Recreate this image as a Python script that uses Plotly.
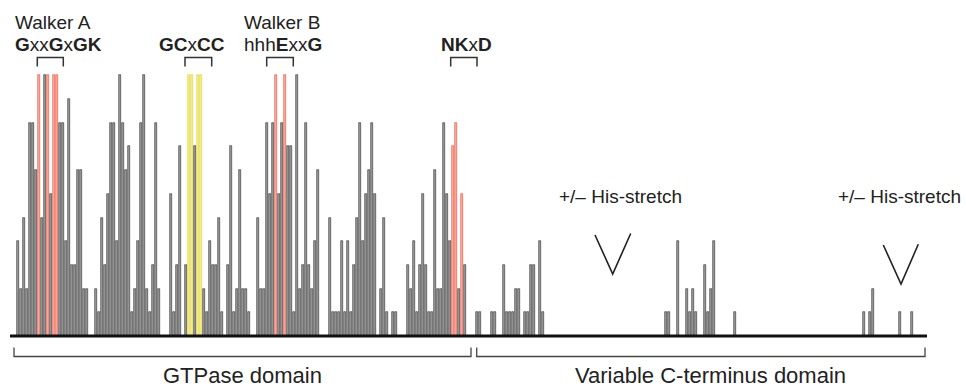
import plotly.graph_objects as go

# ---- data: residue position -> conservation level ----
positions = [
    0, 1, 2, 3, 4, 5, 6, 7, 8, 9, 10, 11, 12, 13, 14, 15, 16, 17, 18, 19, 20, 21, 22, 23,
    26, 27, 28, 29, 30, 31, 32, 33, 34, 35, 36, 37, 38, 39, 40, 41, 42, 43, 44, 45, 46, 47,
    51, 52, 53, 54, 56, 57, 58, 59, 60, 61, 62, 63, 64, 65, 66, 67, 68,
    70, 71, 72, 73, 74, 75, 76, 77,
    80, 81, 82, 83, 84, 85, 86, 87, 88, 89, 90, 91, 92, 93, 94, 95, 96, 97, 98, 99, 100,
    104, 105, 106, 107, 108, 109, 110, 111, 112, 113, 114, 115, 116, 117, 118, 119,
    121, 122, 123, 125, 126,
    130, 131, 132, 133, 134, 135, 136, 137, 138, 139, 140, 141, 142, 143, 144, 145, 146, 147, 148, 149,
    153, 154, 158, 159, 162, 163, 164, 165, 166, 167, 169, 170, 171, 172, 174, 175,
    216, 217, 220, 223, 224, 225, 226, 229, 230, 231, 232, 239,
    282, 284, 285, 294, 298,
]
conservation = [
    4, 2, 5, 2, 9, 9, 7, 11, 5, 11, 11, 6, 11, 11, 9, 9, 4, 10, 3, 3, 7, 7, 2, 2,
    2, 1, 5, 3, 6, 9, 9, 4, 11, 9, 7, 8, 1, 2, 4, 9, 11, 2, 1, 3, 9, 2,
    6, 1, 3, 8, 3, 11, 11, 8, 11, 11, 2, 1, 4, 3, 3, 5, 1,
    3, 8, 1, 2, 7, 2, 2, 1,
    5, 2, 2, 9, 6, 9, 11, 6, 9, 11, 8, 8, 1, 11, 2, 3, 9, 3, 2, 4, 7,
    5, 1, 1, 1, 4, 1, 4, 1, 3, 5, 9, 4, 6, 7, 9, 6,
    2, 5, 1, 1, 1,
    3, 2, 4, 1, 3, 6, 3, 1, 1, 7, 2, 2, 9, 6, 4, 8, 9, 2, 6, 3,
    1, 1, 1, 1, 3, 1, 1, 1, 2, 2, 1, 1, 3, 3, 4, 1,
    1, 1, 4, 2, 1, 2, 1, 3, 1, 2, 4, 1,
    1, 1, 2, 1, 1,
]
red_residues = [7, 10, 12, 13, 86, 89, 145, 146, 148]
yellow_residues = [57, 58, 60, 61]

motif_labels = ["Walker A", "GCxCC", "Walker B", "NKxD"]
motif_patterns = ["<b>G</b>xx<b>G</b>x<b>GK</b>", "<b>GC</b>x<b>CC</b>",
                  "hhh<b>E</b>xx<b>G</b>", "<b>NK</b>x<b>D</b>"]
domain_labels = ["GTPase domain", "Variable C-terminus domain"]
his_label = "+/\u2013 His-stretch"

# ---- pixel <-> axis helpers (layout only) ----
W, H = 966, 387
X0, DX = 18.0, 3.0
Y0, DY = 336.0, 23.7
def X(px):
    return (px - X0) / DX
def Y(py):
    return (Y0 - py) / DY

fills, lines = [], []
for p in positions:
    if p in red_residues:
        fills.append("#fbb0a2"); lines.append("#ec4530")
    elif p in yellow_residues:
        fills.append("#f5f09a"); lines.append("#dcd221")
    else:
        fills.append("#a0a0a0"); lines.append("#2a2a2a")

fig = go.Figure()
fig.add_trace(go.Bar(x=positions, y=conservation, width=0.55,
                     marker=dict(color=fills, line=dict(color=lines, width=0.6)),
                     hoverinfo="skip"))

shapes = []
# baseline
shapes.append(dict(type="line", x0=X(10), x1=X(927), y0=0, y1=0,
                   line=dict(color="#111111", width=3)))
# motif brackets
for (a, b) in [(37.3, 63.3), (185, 211.7), (266.7, 293.3), (450.7, 477)]:
    shapes.append(dict(type="path",
                       path=f"M {X(a)},{Y(66.5)} L {X(a)},{Y(57.5)} L {X(b)},{Y(57.5)} L {X(b)},{Y(66.5)}",
                       line=dict(color="#333333", width=1.5)))
# domain brackets
for (a, b) in [(14, 471), (476.7, 925)]:
    shapes.append(dict(type="path",
                       path=f"M {X(a)},{Y(347.5)} L {X(a)},{Y(356.5)} L {X(b)},{Y(356.5)} L {X(b)},{Y(347.5)}",
                       line=dict(color="#444444", width=1.3)))
# V marks
for (l, m, r) in [((595, 235), (612.7, 274), (630.7, 233.5)),
                  ((883.3, 245), (901, 284), (918.3, 244.3))]:
    shapes.append(dict(type="path",
                       path=f"M {X(l[0])},{Y(l[1])} L {X(m[0])},{Y(m[1])} L {X(r[0])},{Y(r[1])}",
                       line=dict(color="#222222", width=1.6)))

font_small = dict(family="Liberation Sans, Arial, sans-serif", size=19, color="#222222")
font_big = dict(family="Liberation Sans, Arial, sans-serif", size=22, color="#222222")
ann = []
def add(text, px, py, font, xanchor="center"):
    ann.append(dict(text=text, x=X(px), y=Y(py), xref="x", yref="y", showarrow=False,
                    xanchor=xanchor, yanchor="middle", font=font))

add(motif_labels[0], 13, 22, font_small, "left")
add(motif_patterns[0], 13, 44, font_small, "left")
add(motif_patterns[1], 192, 44, font_small)
add(motif_labels[2], 242, 22, font_small, "left")
add(motif_patterns[2], 242, 44, font_small, "left")
add(motif_patterns[3], 466, 44, font_small)
add(his_label, 620, 196, font_small)
add(his_label, 899, 196, font_small)
add(domain_labels[0], 242, 375, font_big)
add(domain_labels[1], 710, 375, font_big)

fig.update_layout(
    width=W, height=H, margin=dict(l=0, r=0, t=0, b=0),
    paper_bgcolor="white", plot_bgcolor="white", showlegend=False,
    bargap=0,
    xaxis=dict(range=[X(0), X(W)], visible=False, fixedrange=True),
    yaxis=dict(range=[Y(H), Y(0)], visible=False, fixedrange=True),
    shapes=shapes, annotations=ann,
)
fig.write_html("out.html")
